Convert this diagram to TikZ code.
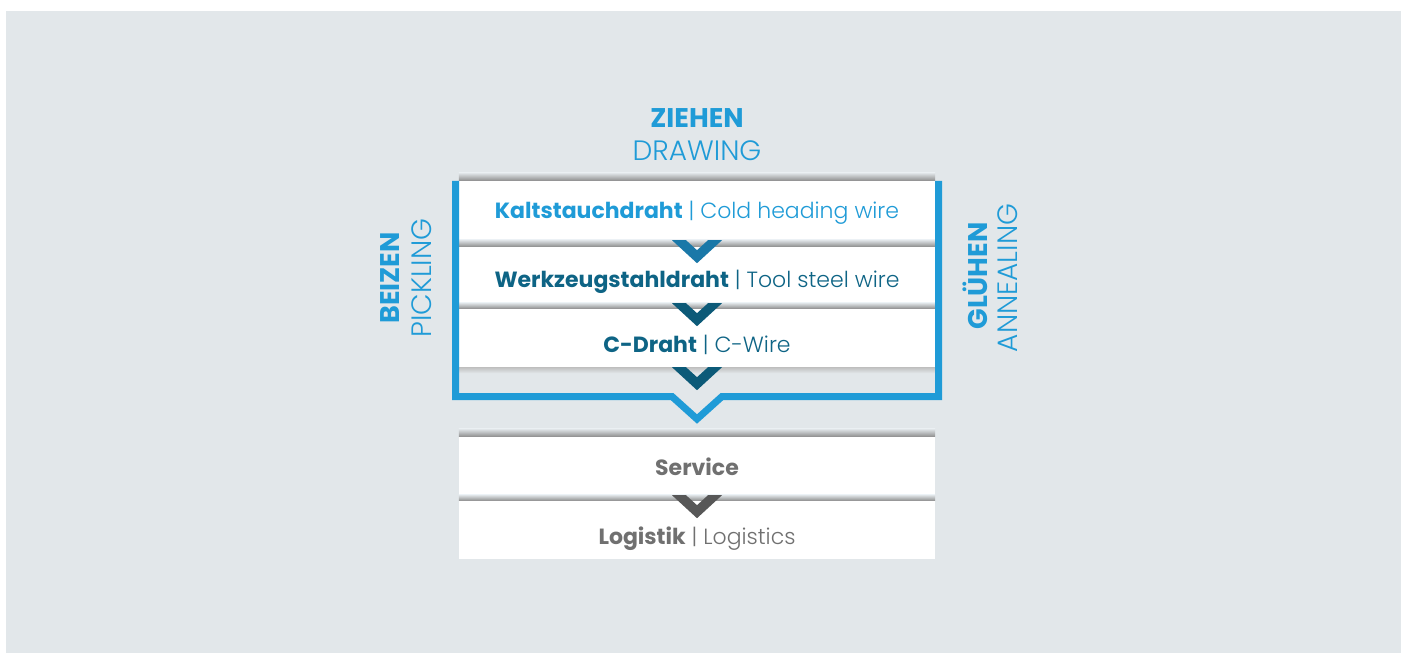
\documentclass[tikz,border=0pt]{standalone}
\usepackage{fontspec}
\setmainfont{Poppins}
\newfontfamily\lightfont{Poppins Light}
\usetikzlibrary{positioning,calc}
\definecolor{bgray}{HTML}{E2E7EA}
\definecolor{lblue}{HTML}{1F9BD7}
\definecolor{dteal}{HTML}{0E6485}
\definecolor{tgray}{HTML}{707070}
\definecolor{cblue}{HTML}{1A78A8}
\definecolor{cteal}{HTML}{0C5A78}
\definecolor{cgray}{HTML}{575757}
\tikzset{
  stepbox/.style={fill=white, minimum width=476pt, inner sep=0pt},
  steptext/.style={inner sep=0pt, font=\fontsize{22}{26}\selectfont},
  head/.style={font=\fontsize{27}{32}\selectfont\bfseries, text=lblue, inner sep=0pt},
  sub/.style={font=\fontsize{28}{32}\selectfont\lightfont, text=lblue, inner sep=0pt},
}
\newcommand\boxshadow[2][8]{%
  \shade[top color=bgray, bottom color=black!45] ($(#2.north west)+(0,-#1)$) rectangle (#2.north east);}
\newcommand\chevron[2]{%
  \fill[#2] (#1) ++(-25,0) -- ++(25,23) -- ++(25,-23) -- ++(-14,0) -- ++(-11,10) -- ++(-11,-10) -- cycle;}
\begin{document}
\begin{tikzpicture}[x=1pt,y=-1pt]
\useasboundingbox (0,0) rectangle (1403,655);
\fill[bgray] (6,11) rectangle (1401,653);
% top label
\node[head] (ziehen) at (697,118) {ZIEHEN};
\node[sub] (drawing) at (697,151) {DRAWING};
% side labels
\node[head, rotate=90] (beizen) at (390,278) {BEIZEN};
\node[sub, rotate=90] (pickling) at (422,278) {PICKLING};
\node[head, rotate=90] (gluehen) at (975,276) {GLÜHEN};
\node[sub, rotate=90] (annealing) at (1008,278) {ANNEALING};
% wire boxes
\node[stepbox, minimum height=59pt] (k1) at (697,210.5) {};
\node[stepbox, minimum height=56pt] (k2) at (697,275) {};
\node[stepbox, minimum height=58pt] (k3) at (697,338) {};
\boxshadow{k1}
\boxshadow[7]{k2}
\boxshadow[6]{k3}
\shade[top color=black!25, bottom color=bgray] (k3.south west) rectangle ($(k3.south east)+(0,6)$);
\chevron{k1.south}{cblue}
\chevron{k2.south}{cteal}
\chevron{k3.south}{cteal}
\node[steptext, text=lblue] (k1t) at ($(k1)+(0,2)$) {\textbf{Kaltstauchdraht} {\lightfont| Cold heading wire}};
\node[steptext, text=dteal] (k2t) at ($(k2)+(0,7)$) {\textbf{Werkzeugstahldraht} {\lightfont| Tool steel wire}};
\node[steptext, text=dteal] (k3t) at ($(k3)+(0,7)$) {\textbf{C-Draht} {\lightfont| C-Wire}};
% bracket
\draw[lblue, line width=7pt, line join=miter] (455.5,181) -- (455.5,396.5) -- (672,396.5) -- (697,419) -- (722,396.5) -- (938.5,396.5) -- (938.5,181);
% service boxes
\node[stepbox, minimum height=58pt] (srv) at (697,466) {};
\node[stepbox, minimum height=58pt] (log) at (697,530) {};
\boxshadow{srv}
\boxshadow[6]{log}
\chevron{srv.south}{cgray}
\node[steptext, text=tgray] (srvt) at ($(srv)+(0,1)$) {\textbf{Service}};
\node[steptext, text=tgray] (logt) at ($(log)+(0,9)$) {\textbf{Logistik} {\lightfont| Logistics}};
\end{tikzpicture}
\end{document}
